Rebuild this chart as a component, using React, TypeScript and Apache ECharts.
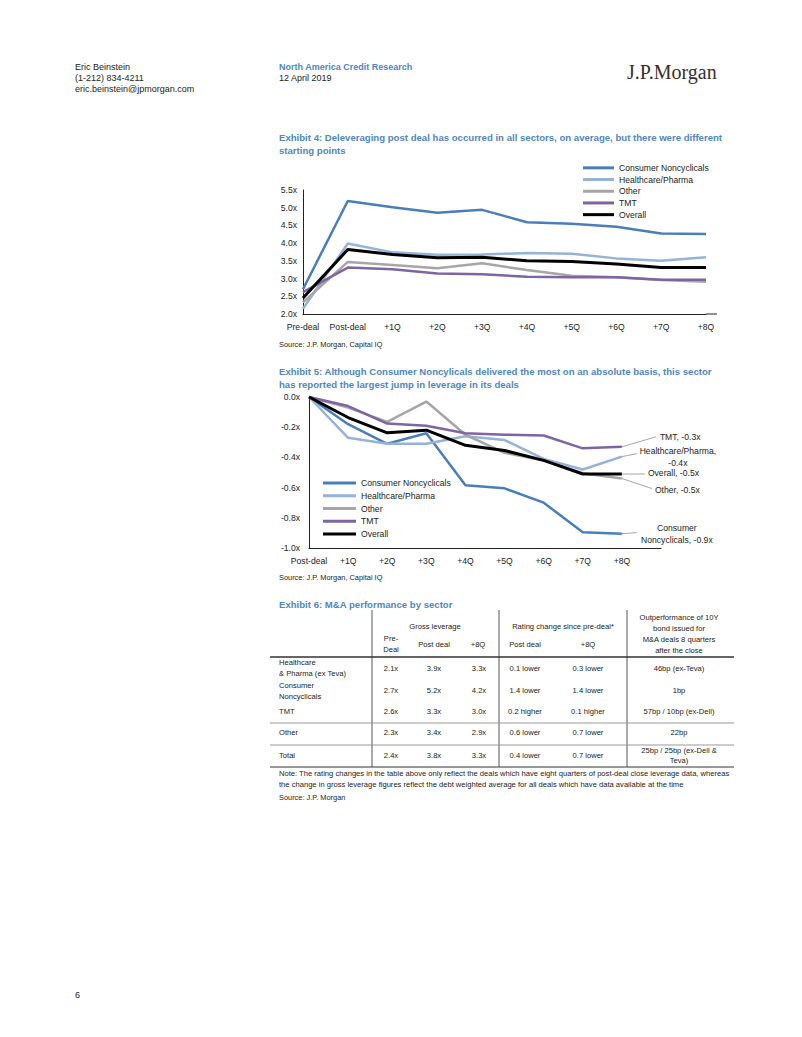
import React, { useEffect, useRef } from "react";
import * as echarts from "echarts";

const FONT = "'Liberation Sans', Arial, Helvetica, sans-serif";
const TITLE_BLUE = "#4f86c6";

const seriesNames = ["Consumer Noncyclicals", "Healthcare/Pharma", "Other", "TMT", "Overall"];
const seriesColors = ["#4a7ebb", "#95b3d7", "#a6a6a6", "#7f64a2", "#000000"];
const seriesWidths = [2.5, 2.5, 2.5, 2.5, 3];

// Exhibit 4: gross leverage (x)
const ex4Categories = ["Pre-deal", "Post-deal", "+1Q", "+2Q", "+3Q", "+4Q", "+5Q", "+6Q", "+7Q", "+8Q"];
const ex4Consumer = [2.7, 5.19, 5.01, 4.86, 4.94, 4.59, 4.55, 4.46, 4.27, 4.26];
const ex4Healthcare = [2.15, 3.99, 3.74, 3.67, 3.68, 3.72, 3.7, 3.57, 3.5, 3.6];
const ex4Other = [2.33, 3.47, 3.38, 3.29, 3.43, 3.24, 3.08, 3.04, 2.96, 2.91];
const ex4TMT = [2.62, 3.31, 3.26, 3.14, 3.12, 3.05, 3.04, 3.04, 2.97, 2.97];
const ex4Overall = [2.45, 3.82, 3.68, 3.59, 3.6, 3.5, 3.48, 3.41, 3.31, 3.31];

// Exhibit 5: change in leverage since post-deal (x)
const ex5Categories = ["Post-deal", "+1Q", "+2Q", "+3Q", "+4Q", "+5Q", "+6Q", "+7Q", "+8Q", ""];
const ex5Consumer = [0, -0.18, -0.31, -0.24, -0.585, -0.605, -0.7, -0.895, -0.905];
const ex5Healthcare = [0, -0.27, -0.31, -0.31, -0.26, -0.285, -0.41, -0.48, -0.395];
const ex5Other = [0, -0.07, -0.165, -0.03, -0.25, -0.37, -0.42, -0.505, -0.54];
const ex5TMT = [0, -0.06, -0.176, -0.19, -0.24, -0.25, -0.255, -0.34, -0.33];
const ex5Overall = [0, -0.136, -0.237, -0.22, -0.32, -0.354, -0.42, -0.51, -0.51];
const ex5EndLabels = [
  "Consumer\nNoncyclicals, -0.9x",
  "Healthcare/Pharma,\n-0.4x",
  "Other, -0.5x",
  "TMT, -0.3x",
  "Overall, -0.5x",
];

// Exhibit 6: table
const tableRowLabels = [["Healthcare", "& Pharma (ex Teva)"], ["Consumer", "Noncyclicals"], ["TMT"], ["Other"], ["Total"]];
const tablePreDeal = ["2.1x", "2.7x", "2.6x", "2.3x", "2.4x"];
const tablePostDeal = ["3.9x", "5.2x", "3.3x", "3.4x", "3.8x"];
const tablePlus8Q = ["3.3x", "4.2x", "3.0x", "2.9x", "3.3x"];
const tableRatingPost = ["0.1 lower", "1.4 lower", "0.2 higher", "0.6 lower", "0.4 lower"];
const tableRating8Q = ["0.3 lower", "1.4 lower", "0.1 higher", "0.7 lower", "0.7 lower"];
const tableOutperf = ["46bp (ex-Teva)", "1bp", "57bp / 10bp (ex-Dell)", "22bp", "25bp / 25bp (ex-Dell &\nTeva)"];

const txt = (text: string, x: number, y: number, opts: any = {}) => ({
  type: "text",
  silent: true,
  style: {
    text,
    x,
    y,
    fill: opts.fill || "#222",
    font: `${opts.bold ? "bold " : ""}${opts.size || 9}px ${opts.family || FONT}`,
    align: opts.align || "left",
    verticalAlign: "middle",
    lineHeight: opts.lineHeight || undefined,
  },
});

const hline = (x1: number, x2: number, y: number, color: string, w: number) => ({
  type: "line",
  silent: true,
  shape: { x1, y1: y, x2, y2: y },
  style: { stroke: color, lineWidth: w },
});
const vline = (x: number, y1: number, y2: number, color: string, w: number) => ({
  type: "line",
  silent: true,
  shape: { x1: x, y1, x2: x, y2 },
  style: { stroke: color, lineWidth: w },
});

function buildStaticGraphics(): any[] {
  const g: any[] = [];
  // page header
  g.push(txt("Eric Beinstein", 75, 67, { size: 9 }));
  g.push(txt("(1-212) 834-4211", 75, 78, { size: 9 }));
  g.push(txt("eric.beinstein@jpmorgan.com", 75, 88.5, { size: 9 }));
  g.push(txt("North America Credit Research", 279, 67, { size: 9, bold: true, fill: TITLE_BLUE }));
  g.push(txt("12 April 2019", 279, 77.5, { size: 9 }));
  g.push(txt("J.P.Morgan", 627, 72, { size: 20, family: "'Liberation Serif', 'DejaVu Serif', serif", fill: "#3a2d2a" }));
  // exhibit 4
  g.push(txt("Exhibit 4: Deleveraging post deal has occurred in all sectors, on average, but there were different", 279, 137.5, { size: 9.6, bold: true, fill: TITLE_BLUE }));
  g.push(txt("starting points", 279, 150, { size: 9.6, bold: true, fill: TITLE_BLUE }));
  g.push(txt("Source: J.P. Morgan, Capital IQ", 279, 344, { size: 7.4 }));
  // exhibit 5
  g.push(txt("Exhibit 5: Although Consumer Noncylicals delivered the most on an absolute basis, this sector", 279, 371, { size: 9.6, bold: true, fill: TITLE_BLUE }));
  g.push(txt("has reported the largest jump in leverage in its deals", 279, 384, { size: 9.6, bold: true, fill: TITLE_BLUE }));
  g.push(txt("Source: J.P. Morgan, Capital IQ", 279, 577, { size: 7.4 }));
  // exhibit 6 table
  g.push(txt("Exhibit 6: M&A performance by sector", 279, 604, { size: 9.6, bold: true, fill: TITLE_BLUE }));
  const ts = 7.6;
  g.push(vline(372, 610, 767, "#555", 1));
  g.push(vline(499, 610, 767, "#555", 1));
  g.push(vline(627, 610, 767, "#555", 1));
  g.push(hline(270, 734, 657, "#333", 1.6));
  g.push(hline(270, 734, 723, "#999", 1));
  g.push(hline(270, 734, 745, "#999", 1));
  g.push(hline(270, 734, 767, "#333", 1));
  g.push(txt("Gross leverage", 435, 626, { size: ts, align: "center" }));
  g.push(txt("Pre-\nDeal", 391, 643.5, { size: ts, align: "center", lineHeight: 11 }));
  g.push(txt("Post deal", 434, 644, { size: ts, align: "center" }));
  g.push(txt("+8Q", 478, 644, { size: ts, align: "center" }));
  g.push(txt("Rating change since pre-deal*", 563, 626, { size: ts, align: "center" }));
  g.push(txt("Post deal", 525, 644, { size: ts, align: "center" }));
  g.push(txt("+8Q", 588, 644, { size: ts, align: "center" }));
  g.push(txt("Outperformance of 10Y\nbond issued for\nM&A deals 8 quarters\nafter the close", 679, 634, { size: ts, align: "center", lineHeight: 10.8 }));
  const rowYs = [668, 690.7, 711.7, 732.7, 755.5];
  tableRowLabels.forEach((lbl, i) => {
    g.push(txt(lbl.join("\n"), 279, rowYs[i], { size: ts, lineHeight: 11 }));
    g.push(txt(tablePreDeal[i], 391, rowYs[i], { size: ts, align: "center" }));
    g.push(txt(tablePostDeal[i], 434, rowYs[i], { size: ts, align: "center" }));
    g.push(txt(tablePlus8Q[i], 479, rowYs[i], { size: ts, align: "center" }));
    g.push(txt(tableRatingPost[i], 525, rowYs[i], { size: ts, align: "center" }));
    g.push(txt(tableRating8Q[i], 588, rowYs[i], { size: ts, align: "center" }));
    g.push(txt(tableOutperf[i], 679, rowYs[i], { size: ts, align: "center", lineHeight: 10.7 }));
  });
  g.push(txt("Note: The rating changes in the table above only reflect the deals which have eight quarters of post-deal close leverage data, whereas", 279, 773.5, { size: ts }));
  g.push(txt("the change in gross leverage figures reflect the debt weighted average for all deals which have data available at the time", 279, 784, { size: ts }));
  g.push(txt("Source: J.P. Morgan", 279, 797, { size: 7.4 }));
  // page number
  g.push(txt("6", 75, 995, { size: 9 }));
  return g;
}

export default function App() {
  const ref = useRef<HTMLDivElement>(null);
  useEffect(() => {
    if (!ref.current) return;
    const chart = echarts.init(ref.current, undefined, { renderer: "svg" });
    const ex4Data = [ex4Consumer, ex4Healthcare, ex4Other, ex4TMT, ex4Overall];
    const ex5Data = [ex5Consumer, ex5Healthcare, ex5Other, ex5TMT, ex5Overall];
    const axisLabelStyle = { fontFamily: FONT, fontSize: 8.6, color: "#222" };
    const legendBase = {
      data: seriesNames,
      orient: "vertical",
      icon: "rect",
      itemGap: 0,
      padding: 0,
      selectedMode: false,
    };
    const staticGraphics = buildStaticGraphics();
    const option: any = {
      animation: false,
      backgroundColor: "#ffffff",
      textStyle: { fontFamily: FONT },
      grid: [
        { left: 303, top: 190, width: 403, height: 124, containLabel: false },
        { left: 309, top: 397, width: 352, height: 151, containLabel: false },
      ],
      legend: [
        {
          ...legendBase,
          left: 583,
          top: 162,
          itemWidth: 31,
          itemHeight: 3,
          textStyle: { fontFamily: FONT, fontSize: 8.6, color: "#222", lineHeight: 11.7 },
        },
        {
          ...legendBase,
          left: 323,
          top: 476.5,
          itemWidth: 33,
          itemHeight: 3,
          textStyle: { fontFamily: FONT, fontSize: 8.6, color: "#222", lineHeight: 12.8 },
        },
      ],
      xAxis: [
        {
          type: "category",
          gridIndex: 0,
          data: ex4Categories,
          boundaryGap: false,
          axisLine: { lineStyle: { color: "#222", width: 1 } },
          axisTick: { show: false },
          axisLabel: { ...axisLabelStyle, margin: 8, interval: 0 },
          splitLine: { show: false },
        },
        {
          type: "category",
          gridIndex: 1,
          data: ex5Categories,
          boundaryGap: false,
          axisLine: { lineStyle: { color: "#222", width: 1 }, onZero: false },
          axisTick: { show: false },
          axisLabel: { ...axisLabelStyle, margin: 8, interval: 0 },
          splitLine: { show: false },
        },
      ],
      yAxis: [
        {
          type: "value",
          gridIndex: 0,
          min: 2,
          max: 5.5,
          interval: 0.5,
          axisLine: { show: true, lineStyle: { color: "#222", width: 1 } },
          axisTick: { show: false },
          splitLine: { show: false },
          axisLabel: { ...axisLabelStyle, margin: 6, formatter: (v: number) => v.toFixed(1) + "x" },
        },
        {
          type: "value",
          gridIndex: 1,
          min: -1,
          max: 0,
          interval: 0.2,
          axisLine: { show: true, lineStyle: { color: "#222", width: 1 } },
          axisTick: { show: false },
          splitLine: { show: false },
          axisLabel: { ...axisLabelStyle, margin: 9, formatter: (v: number) => v.toFixed(1) + "x" },
        },
      ],
      series: [
        ...seriesNames.map((name, i) => ({
          type: "line",
          name,
          xAxisIndex: 0,
          yAxisIndex: 0,
          data: ex4Data[i],
          showSymbol: false,
          symbol: "none",
          color: seriesColors[i],
          lineStyle: { color: seriesColors[i], width: seriesWidths[i] },
          z: 2 + i,
        })),
        ...seriesNames.map((name, i) => ({
          type: "line",
          name,
          xAxisIndex: 1,
          yAxisIndex: 1,
          data: ex5Data[i],
          showSymbol: false,
          symbol: "none",
          color: seriesColors[i],
          lineStyle: { color: seriesColors[i], width: seriesWidths[i] },
          z: 2 + i,
        })),
      ],
      graphic: staticGraphics,
    };
    chart.setOption(option);

    // end-of-line labels for Exhibit 5, anchored on the library's own pixel mapping
    const labelOffsets = [
      { lx: 15, ly: -1, tx: 55, ty: 0, align: "center" },
      { lx: 15, ly: -3, tx: 56, ty: 0, align: "center" },
      { lx: 30, ly: 10, tx: 33, ty: 11, align: "left" },
      { lx: 34, ly: -10, tx: 38, ty: -10, align: "left" },
      { lx: 23, ly: 0, tx: 26, ty: -1, align: "left" },
    ];
    const extra: any[] = [];
    ex5Data.forEach((vals, i) => {
      const last = vals.length - 1;
      const p = chart.convertToPixel({ xAxisIndex: 1, yAxisIndex: 1 } as any, [last, vals[last]]) as number[];
      const o = labelOffsets[i];
      extra.push({
        type: "line",
        silent: true,
        shape: { x1: p[0], y1: p[1], x2: p[0] + o.lx, y2: p[1] + o.ly },
        style: { stroke: "#a6a6a6", lineWidth: 1 },
      });
      extra.push(txt(ex5EndLabels[i], p[0] + o.tx, p[1] + o.ty, { size: 8.6, align: o.align, lineHeight: 12 }));
    });
    // Exhibit 4 axis line runs a little past the last category
    const e4 = chart.convertToPixel({ xAxisIndex: 0, yAxisIndex: 0 } as any, [ex4Categories.length - 1, 2]) as number[];
    extra.push(hline(e4[0], e4[0] + 11, e4[1], "#222", 1));
    chart.setOption({ graphic: [...staticGraphics, ...extra] });

    return () => chart.dispose();
  }, []);
  return (
    <div
      ref={ref}
      style={{ position: "absolute", left: 0, top: 0, width: 802, height: 1037, background: "#fff" }}
    />
  );
}
